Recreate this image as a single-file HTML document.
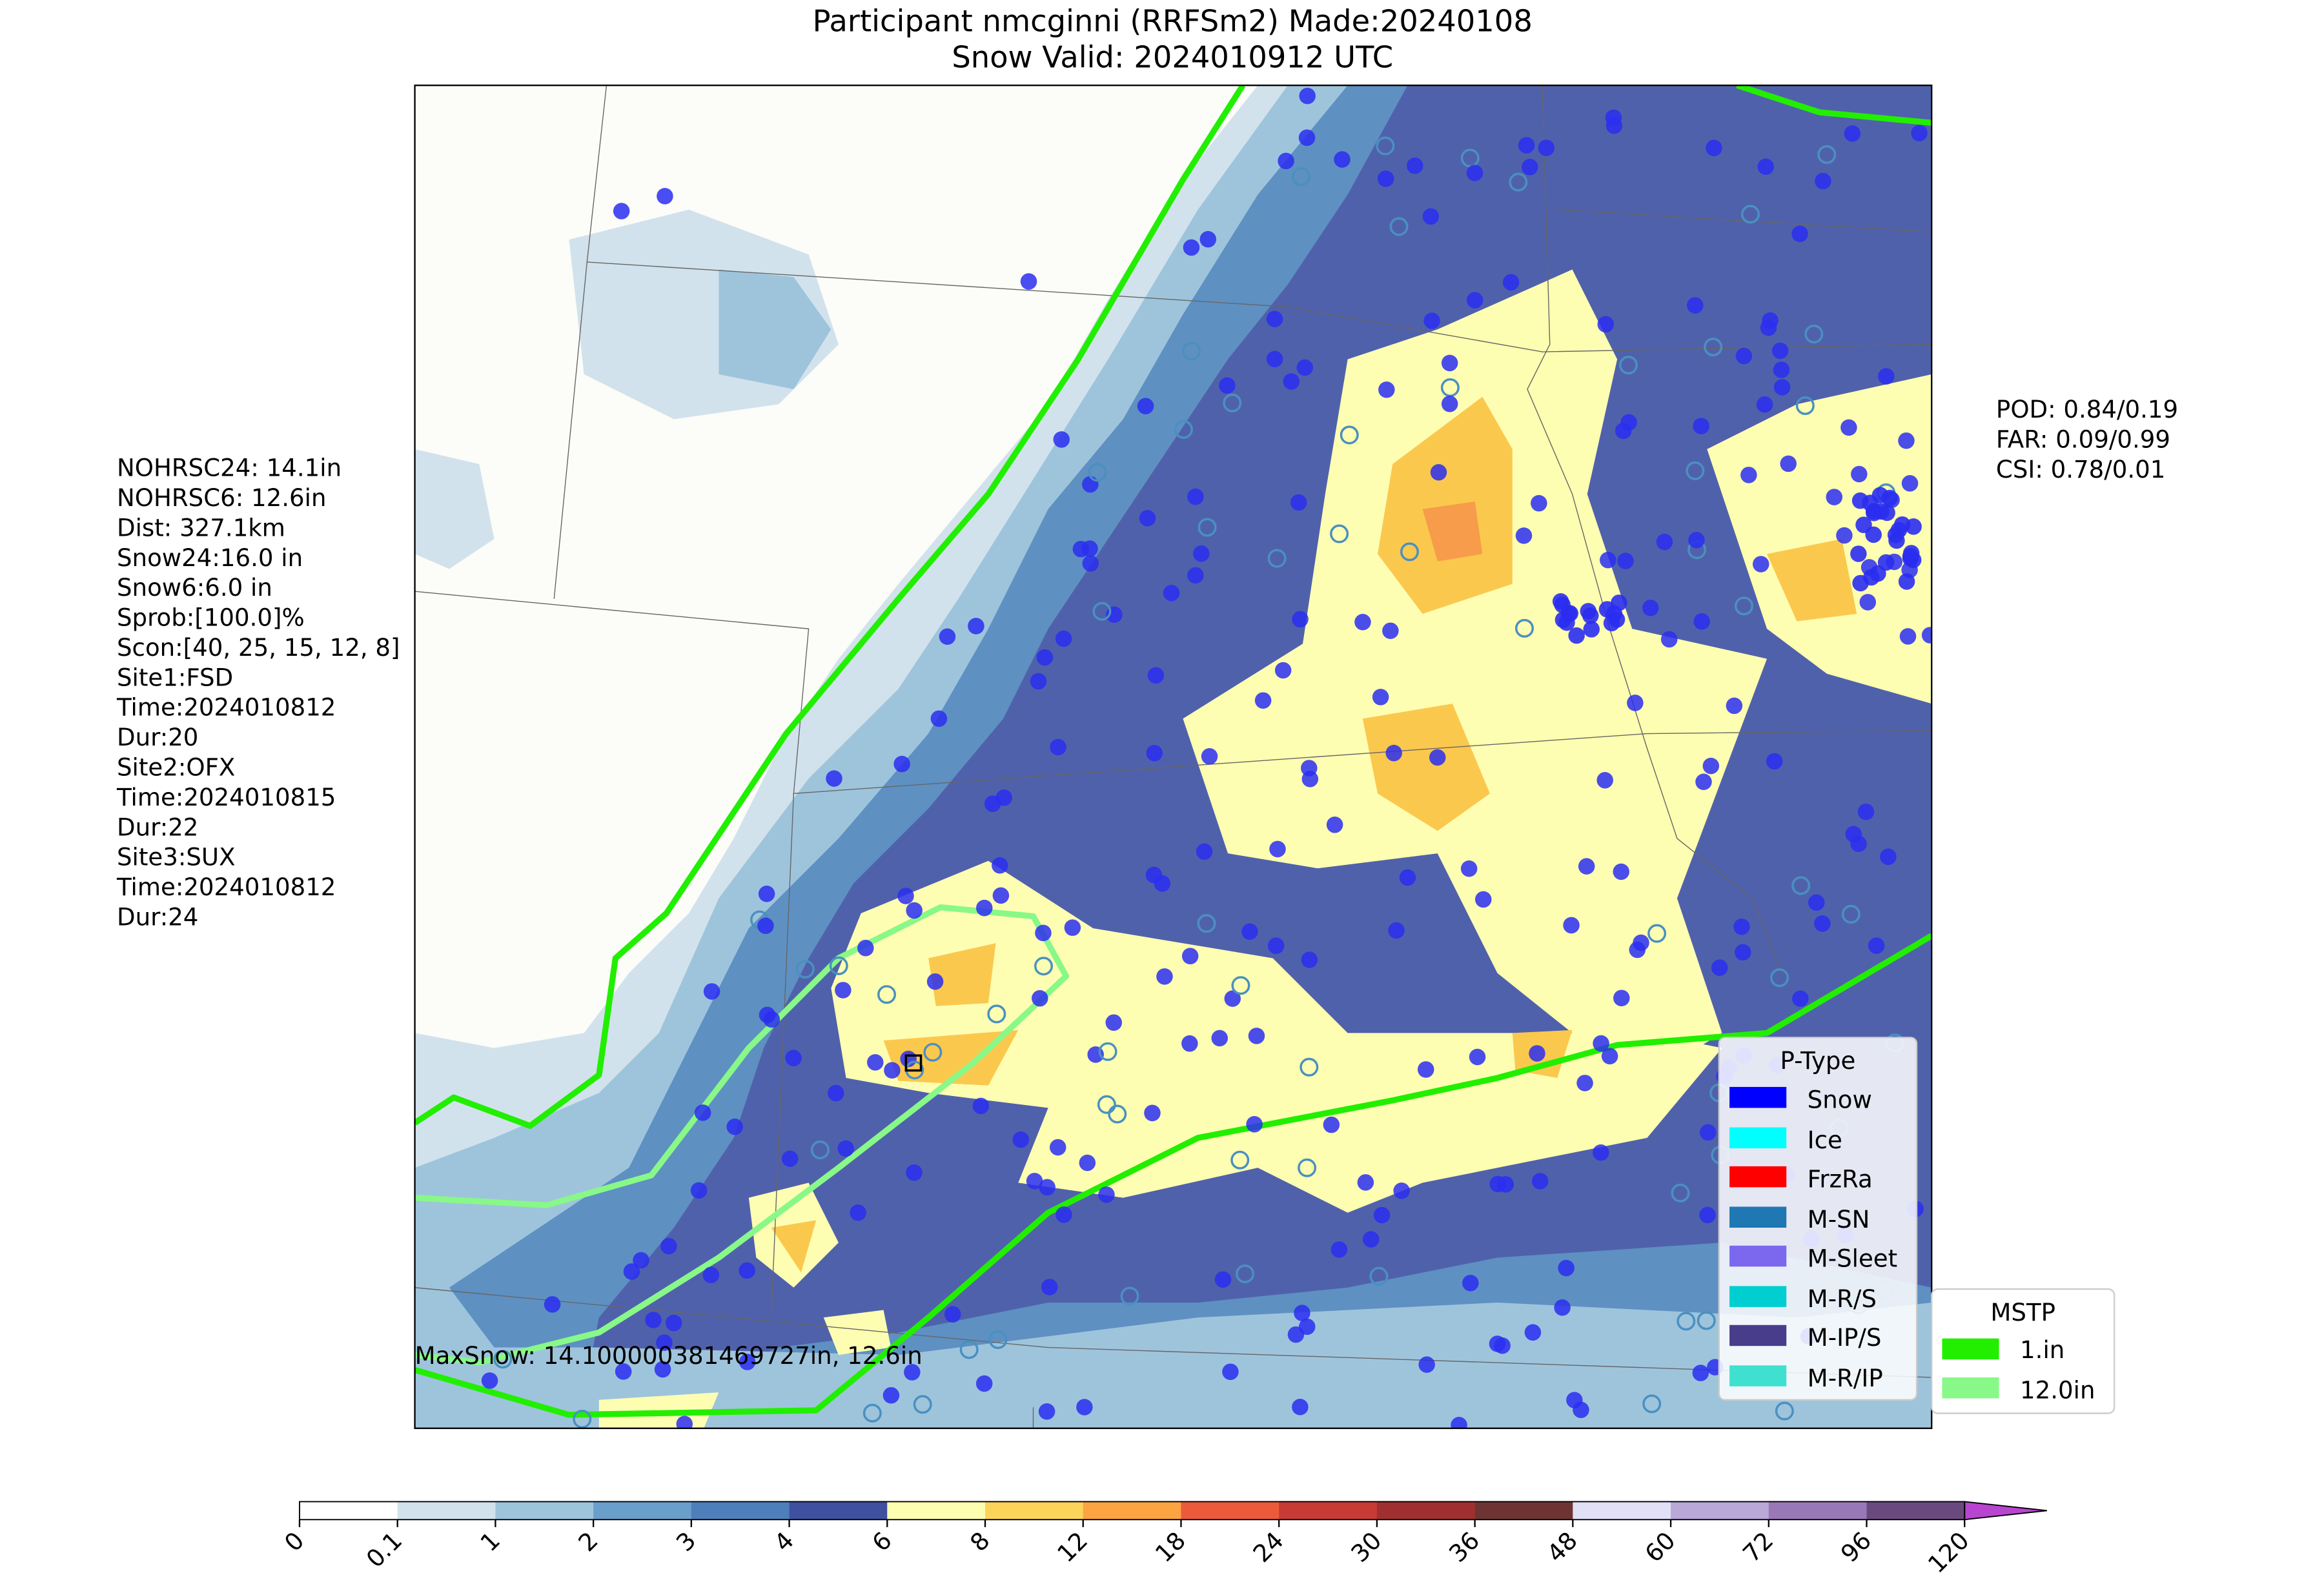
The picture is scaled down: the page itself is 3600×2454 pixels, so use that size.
<!DOCTYPE html>
<html><head><meta charset="utf-8"><style>
html,body{margin:0;padding:0;background:#fff;}
svg{display:block;}
text{font-family:"DejaVu Sans","Liberation Sans",sans-serif;fill:#000;}
</style></head><body>
<svg id="s" width="3600" height="2454" viewBox="0 0 1552 1058" xmlns="http://www.w3.org/2000/svg">
<rect width="1552" height="1058" fill="#fff"/>
<text x="783" y="21" font-size="20" text-anchor="middle">Participant nmcginni (RRFSm2) Made:20240108</text>
<text x="783" y="45" font-size="20" text-anchor="middle">Snow Valid: 2024010912 UTC</text>
<defs><clipPath id="c"><rect x="277" y="57" width="1013" height="897"/></clipPath></defs>
<g clip-path="url(#c)">
<rect x="277" y="57" width="1013" height="897" fill="#d2e2ec"/>
<polygon fill="#fcfcf8" points="277,57 840,57 790,120 740,200 700,270 650,330 600,390 560,440 520,500 490,560 460,610 420,650 390,690 330,700 277,690"/>
<polygon fill="#d2e2ec" points="380,160 460,140 540,170 560,230 520,270 450,280 390,250"/>
<polygon fill="#9ec4dc" points="480,180 530,185 555,220 530,260 480,250"/>
<polygon fill="#d2e2ec" points="277,300 320,310 330,360 300,380 277,370"/>
<polygon fill="#9ec4dc" points="860,57 1290,57 1290,954 1100,954 900,954 700,930 560,954 430,954 300,954 277,954 277,780 330,760 400,730 440,690 480,600 540,520 600,460 640,400 690,320 740,240 800,140"/>
<polygon fill="#5e90c2" points="900,57 1290,57 1290,880 1150,900 1000,880 900,890 800,900 700,910 600,930 500,940 420,950 330,900 300,860 360,820 420,780 460,700 500,620 560,560 620,490 660,420 700,340 750,280 790,210 840,130"/>
<polygon fill="#5061ab" points="940,57 1290,57 1290,860 1150,830 1000,840 900,860 800,870 700,870 600,890 520,900 450,930 390,930 400,880 450,820 490,760 510,700 540,640 570,590 620,540 670,480 700,420 740,360 780,300 820,240 860,190 900,130"/>
<polygon fill="#9ec4dc" points="277,954 277,900 400,900 600,905 800,880 1000,870 1200,880 1290,870 1290,954"/>
<g fill="#fefeb2">
<polygon points="900,240 960,220 1050,180 1080,240 1060,330 1090,420 1180,440 1150,520 1120,600 1150,690 1100,720 1050,690 1000,650 960,570 880,580 820,570 790,480 870,430 885,330"/>
<polygon points="1140,300 1200,270 1290,250 1290,470 1220,450 1180,420"/>
<polygon points="575,610 660,575 730,620 850,640 900,690 1000,690 1100,690 1150,700 1100,760 950,790 900,810 840,780 750,800 680,790 700,740 620,730 565,720 555,660"/>
<polygon points="500,800 540,790 560,830 530,860 505,840"/>
<polygon points="550,880 590,875 595,900 560,905"/>
<polygon points="400,935 480,930 470,954 400,954"/>
</g>
<g fill="#fbc84e">
<polygon points="930,310 990,265 1010,300 1010,390 950,410 920,370"/>
<polygon points="910,480 970,470 995,530 960,555 920,530"/>
<polygon points="620,640 665,630 660,670 625,672"/>
<polygon points="590,695 680,688 660,725 600,722"/>
<polygon points="1180,370 1230,360 1240,410 1200,415"/>
<polygon points="1010,690 1050,688 1040,720 1012,715"/>
<polygon points="515,820 545,815 535,850"/>
</g>
<polygon fill="#f79c4a" points="950,340 985,335 990,370 960,375"/>
<g fill="none" stroke="#666" stroke-width="0.6">
<polyline points="392,175 860,205 1030,235 1290,230"/>
<polyline points="1030,57 1035,230 1020,260 1050,330 1075,420 1100,500 1120,560 1170,600 1190,650"/>
<polyline points="405,57 392,175 370,400"/>
<polyline points="277,395 540,420 530,530 1100,490 1290,488"/>
<polyline points="530,530 515,880"/>
<polyline points="277,860 700,900 1290,920"/>
<polyline points="1040,140 1290,155"/>
<polyline points="690,940 690,954"/>
</g>
<g fill="none" stroke-width="4" stroke-linejoin="round">
<polyline stroke="#22ee00" points="277,750 303,733 354,752 400,718 411,640 445,610 525,490 600,400 660,330 720,240 790,120 830,57"/>
<polyline stroke="#22ee00" points="1160,57 1215,75 1290,82"/>
<polyline stroke="#22ee00" points="277,915 380,945 545,942 620,880 700,810 800,760 930,735 1000,720 1080,698 1180,690 1290,625"/>
<polyline stroke="#88f888" points="277,800 365,805 435,785 500,700 560,640 628,606 690,612 712,652 650,710 560,780 480,840 400,890 320,910 277,905"/>
</g>
<g id="dots"></g>
<rect x="605" y="705" width="10" height="10" fill="none" stroke="#000" stroke-width="1.5"/>
</g>
<rect x="277" y="57" width="1013" height="897" fill="none" stroke="#000" stroke-width="1"/>
<text x="277" y="911" font-size="16">MaxSnow: 14.100000381469727in, 12.6in</text>
<g font-size="16">
<text x="78" y="318">NOHRSC24: 14.1in</text>
<text x="78" y="338">NOHRSC6: 12.6in</text>
<text x="78" y="358">Dist: 327.1km</text>
<text x="78" y="378">Snow24:16.0 in</text>
<text x="78" y="398">Snow6:6.0 in</text>
<text x="78" y="418">Sprob:[100.0]%</text>
<text x="78" y="438">Scon:[40, 25, 15, 12, 8]</text>
<text x="78" y="458">Site1:FSD</text>
<text x="78" y="478">Time:2024010812</text>
<text x="78" y="498">Dur:20</text>
<text x="78" y="518">Site2:OFX</text>
<text x="78" y="538">Time:2024010815</text>
<text x="78" y="558">Dur:22</text>
<text x="78" y="578">Site3:SUX</text>
<text x="78" y="598">Time:2024010812</text>
<text x="78" y="618">Dur:24</text>
<text x="1333" y="279">POD: 0.84/0.19</text>
<text x="1333" y="299">FAR: 0.09/0.99</text>
<text x="1333" y="319">CSI: 0.78/0.01</text>
</g>
<g>
<rect x="1148" y="693" width="132" height="242" rx="4" fill="#fff" fill-opacity="0.85" stroke="#ccc"/>
<text x="1214" y="714" font-size="16" text-anchor="middle">P-Type</text>
<g font-size="16">
<rect x="1155" y="726" width="38" height="14" fill="#0000ff"/><text x="1207" y="740">Snow</text>
<rect x="1155" y="753" width="38" height="14" fill="#00ffff"/><text x="1207" y="767">Ice</text>
<rect x="1155" y="779" width="38" height="14" fill="#ff0000"/><text x="1207" y="793">FrzRa</text>
<rect x="1155" y="806" width="38" height="14" fill="#1f77b4"/><text x="1207" y="820">M-SN</text>
<rect x="1155" y="832" width="38" height="14" fill="#7b68ee"/><text x="1207" y="846">M-Sleet</text>
<rect x="1155" y="859" width="38" height="14" fill="#00ced1"/><text x="1207" y="873">M-R/S</text>
<rect x="1155" y="885" width="38" height="14" fill="#483d8b"/><text x="1207" y="899">M-IP/S</text>
<rect x="1155" y="912" width="38" height="14" fill="#40e0d0"/><text x="1207" y="926">M-R/IP</text>
</g>
<rect x="1290" y="861" width="122" height="83" rx="4" fill="#fff" stroke="#ccc"/>
<text x="1351" y="882" font-size="16" text-anchor="middle">MSTP</text>
<rect x="1297" y="894" width="38" height="14" fill="#22ee00"/><text x="1349" y="907" font-size="16">1.in</text>
<rect x="1297" y="920" width="38" height="14" fill="#88f888"/><text x="1349" y="934" font-size="16">12.0in</text>
</g>
<g id="cb"></g>
</svg>
<script>
(function(){
var ns="http://www.w3.org/2000/svg";
function el(t,a,p){var e=document.createElementNS(ns,t);for(var k in a)e.setAttribute(k,a[k]);p.appendChild(e);return e;}
var cols=["#ffffff","#d2e2ec","#9ec4dc","#6a9fcc","#4f7fbb","#4050a0","#fefeb2","#fdd45a","#fca442","#ec5a3c","#c83a34","#a03030","#6e3434","#e2e0f6","#b9a8d8","#9a78b8","#6a4a7e"];
var ticks=["0","0.1","1","2","3","4","6","8","12","18","24","30","36","48","60","72","96","120"];
var cb=document.getElementById("cb");var x0=200,W=1112,w=W/17;
for(var i=0;i<17;i++)el("rect",{x:x0+i*w,y:1003,width:w+0.5,height:12,fill:cols[i]},cb);
el("polygon",{points:"1312,1003 1367,1009 1312,1015",fill:"#b845cf",stroke:"#000","stroke-width":0.8},cb);
el("rect",{x:200,y:1003,width:1112,height:12,fill:"none",stroke:"#000","stroke-width":0.8},cb);
for(var i=0;i<ticks.length;i++){var x=x0+i*w;
 el("line",{x1:x,y1:1015,x2:x,y2:1020,stroke:"#000"},cb);
 var t=el("text",{x:x+4,y:1030,"font-size":16,"text-anchor":"end",transform:"rotate(-45 "+(x+4)+" 1030)"},cb);t.textContent=ticks[i];}
var d=document.getElementById("dots");var s=12345;function r(){s=(s*16807)%2147483647;return s/2147483647;}
function inReg(x,y){var bx=830-(y-57)*0.62; return x>bx+20;}
var n=0;while(n<320){var x=277+r()*1013,y=57+r()*897;if(!inReg(x,y))continue;n++;
 if(r()<0.85)el("circle",{cx:x,cy:y,r:5.5,fill:"#2a2ef0","fill-opacity":0.85},d);
 else el("circle",{cx:x,cy:y,r:5.5,fill:"none",stroke:"#4a90c0","stroke-width":1.5},d);}
var ex=[[415,141],[444,131],[687,188],[557,520],[627,480],[512,597],[573,810]];
ex.forEach(function(p){el("circle",{cx:p[0],cy:p[1],r:5.5,fill:"#2a2ef0","fill-opacity":0.85},d);});
for(var k=0;k<25;k++){el("circle",{cx:1240+r()*40,cy:330+r()*60,r:5.5,fill:"#2a2ef0","fill-opacity":0.9},d);}
for(var k=0;k<15;k++){el("circle",{cx:1040+r()*50,cy:395+r()*30,r:5.5,fill:"#2a2ef0","fill-opacity":0.9},d);}
})();
</script>
</body></html>
